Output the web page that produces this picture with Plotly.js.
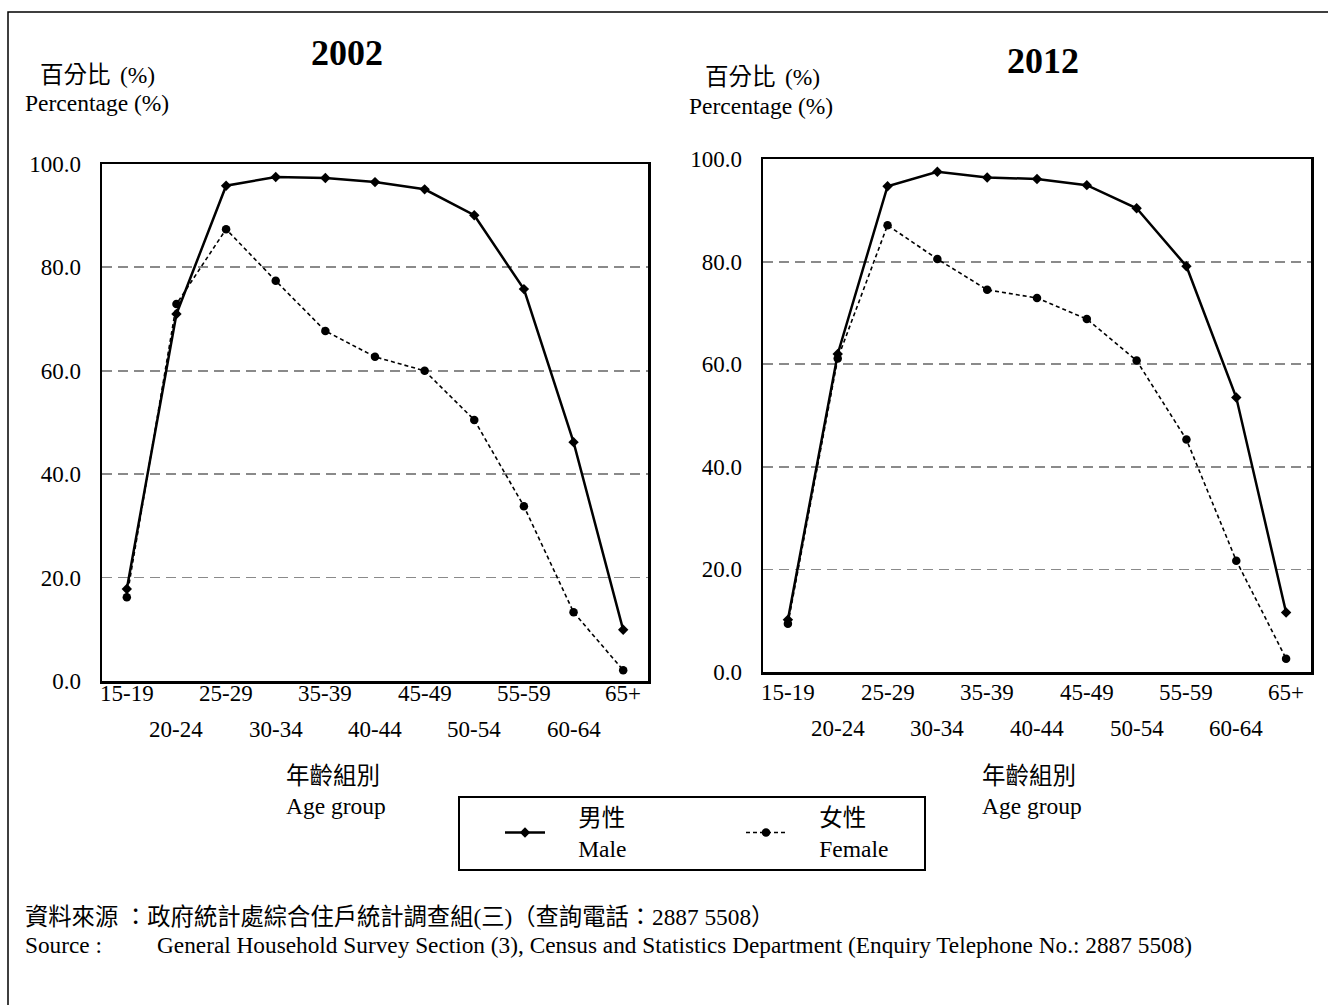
<!DOCTYPE html>
<html>
<head>
<meta charset="utf-8">
<script src="https://cdn.plot.ly/plotly-3.0.1.min.js"></script>
<style>html,body{margin:0;padding:0;background:#fff;}</style>
</head>
<body>
<div id="chart" style="width:1328px;height:1005px;"></div>
<script>
const ages = ['15-19','20-24','25-29','30-34','35-39','40-44','45-49','50-54','55-59','60-64','65+'];
const male2002   = [17.8, 71.0, 95.8, 97.5, 97.3, 96.5, 95.1, 90.1, 75.8, 46.2, 9.9];
const female2002 = [16.2, 72.9, 87.4, 77.4, 67.7, 62.7, 60.0, 50.5, 33.8, 13.3, 2.1];
const male2012   = [10.2, 62.0, 94.7, 97.5, 96.4, 96.1, 94.9, 90.4, 79.1, 53.5, 11.6];
const female2012 = [9.4, 61.1, 87.1, 80.5, 74.5, 72.9, 68.8, 60.7, 45.3, 21.7, 2.6];
const yTicks = [0, 20, 40, 60, 80, 100];
const titles = ['2002', '2012'];
const maleName = '\u2003\u2009男性<br>\u2003\u2009Male';
const femaleName = '\u2003\u2009女性<br>\u2003\u2009Female';
const yTitleZh = '百分比&#8201;&#8201;(%)';
const yTitleEn = 'Percentage (%)';
const xTitleZh = '年齡組別';
const xTitleEn = 'Age group';
const sourceZh = '資料來源 ：政府統計處綜合住戶統計調查組(三)（查詢電話：2887 5508）';
const sourceEnLabel = 'Source :';
const sourceEn = 'General Household Survey Section (3), Census and Statistics Department (Enquiry Telephone No.: 2887 5508)';

const W = 1328, H = 1005;
const FONT = "'Liberation Serif', 'Noto Sans CJK TC', serif";
const FS = 23.5;
const px = v => v / W;
const py = v => 1 - v / H;

function maleTrace(x, y, xa, ya, show) {
  return {x: x, y: y, xaxis: xa, yaxis: ya, type: 'scatter', mode: 'lines+markers',
    name: maleName, showlegend: show, legendgroup: 'm',
    line: {color: '#000', width: 2.5},
    marker: {symbol: 'diamond', size: 8, color: '#000'}};
}
function femaleTrace(x, y, xa, ya, show) {
  return {x: x, y: y, xaxis: xa, yaxis: ya, type: 'scatter', mode: 'lines+markers',
    name: femaleName, showlegend: show, legendgroup: 'f',
    line: {color: '#000', width: 1.6, dash: '4px,3px'},
    marker: {symbol: 'circle', size: 8.5, color: '#000'}};
}

const data = [
  maleTrace(ages, male2002, 'x', 'y', true),
  femaleTrace(ages, female2002, 'x', 'y', true),
  maleTrace(ages, male2012, 'x2', 'y2', false),
  femaleTrace(ages, female2012, 'x2', 'y2', false)
];

function xAxis(dom, anchor) {
  return {domain: dom, anchor: anchor, type: 'category', categoryorder: 'array', categoryarray: ages,
    range: [-0.5, ages.length - 0.5], showline: true, linecolor: '#000', linewidth: 2.5, mirror: true,
    showgrid: false, zeroline: false, ticks: '', showticklabels: false, automargin: false, fixedrange: true};
}
function yAxis(dom, anchor) {
  return {domain: dom, anchor: anchor, range: [0, 100], showline: true, linecolor: '#000', linewidth: 2.5, mirror: true,
    showgrid: true, gridcolor: '#8a8a8a', gridwidth: 1.8, griddash: '10px,6px', zeroline: false, ticks: '',
    tickmode: 'array', tickvals: yTicks, tickformat: '.1f', ticklabelstandoff: 14,
    tickfont: {family: FONT, size: 23, color: '#000'}, automargin: false, fixedrange: true};
}

const annotations = [];
function addText(x, y, text, size, opts) {
  annotations.push(Object.assign({xref: 'paper', yref: 'paper', x: x, y: y, text: text, showarrow: false,
    font: {family: FONT, size: size, color: '#000'}, xanchor: 'left', yanchor: 'middle'}, opts || {}));
}
// age labels, staggered in two rows
ages.forEach((a, i) => {
  const lower = i % 2 === 1;
  annotations.push({xref: 'x', yref: 'paper', x: a, y: py(lower ? 729 : 693), text: a, showarrow: false,
    font: {family: FONT, size: 23, color: '#000'}, xanchor: 'center', yanchor: 'middle'});
  annotations.push({xref: 'x2', yref: 'paper', x: a, y: py(lower ? 728 : 692), text: a, showarrow: false,
    font: {family: FONT, size: 23, color: '#000'}, xanchor: 'center', yanchor: 'middle'});
});
// titles
addText(px(347), py(53), '<b>' + titles[0] + '</b>', 36, {xanchor: 'center'});
addText(px(1043), py(61), '<b>' + titles[1] + '</b>', 36, {xanchor: 'center'});
// y titles
addText(px(38), py(75), yTitleZh, FS);
addText(px(23), py(103), yTitleEn, FS);
addText(px(703), py(77), yTitleZh, FS);
addText(px(687), py(106), yTitleEn, FS);
// x titles
addText(px(284), py(776), xTitleZh, FS);
addText(px(284), py(806), xTitleEn, FS);
addText(px(980), py(776), xTitleZh, FS);
addText(px(980), py(806), xTitleEn, FS);
// source
addText(px(23), py(917), sourceZh, 23.3);
addText(px(23), py(945), sourceEnLabel, 23.3);
addText(px(155), py(945), sourceEn, 23.3);

const layout = {
  width: W, height: H,
  margin: {l: 0, r: 0, t: 0, b: 0},
  paper_bgcolor: '#fff', plot_bgcolor: '#fff',
  font: {family: FONT, color: '#000', size: FS},
  xaxis: xAxis([px(102), px(648)], 'y'),
  yaxis: yAxis([py(681), py(164)], 'x'),
  xaxis2: xAxis([px(763), px(1311)], 'y2'),
  yaxis2: yAxis([py(672), py(159)], 'x2'),
  showlegend: true,
  legend: {orientation: 'h', x: px(500), y: py(833), xanchor: 'left', yanchor: 'middle',
    bgcolor: 'rgba(0,0,0,0)', borderwidth: 0, entrywidth: 186, entrywidthmode: 'pixels',
    itemwidth: 40, font: {family: FONT, size: FS, color: '#000'}, valign: 'middle'},
  annotations: annotations,
  shapes: [
    {type: 'rect', xref: 'paper', yref: 'paper', x0: px(8), x1: 1.05, y0: -0.05, y1: py(12),
      line: {color: '#000', width: 1.5}, fillcolor: 'rgba(0,0,0,0)', layer: 'below'},
    {type: 'rect', xref: 'paper', yref: 'paper', x0: px(459), x1: px(925), y0: py(870), y1: py(797),
      line: {color: '#000', width: 2}, fillcolor: 'rgba(0,0,0,0)'}
  ]
};

Plotly.newPlot('chart', data, layout, {staticPlot: true, displayModeBar: false});
</script>
</body>
</html>
